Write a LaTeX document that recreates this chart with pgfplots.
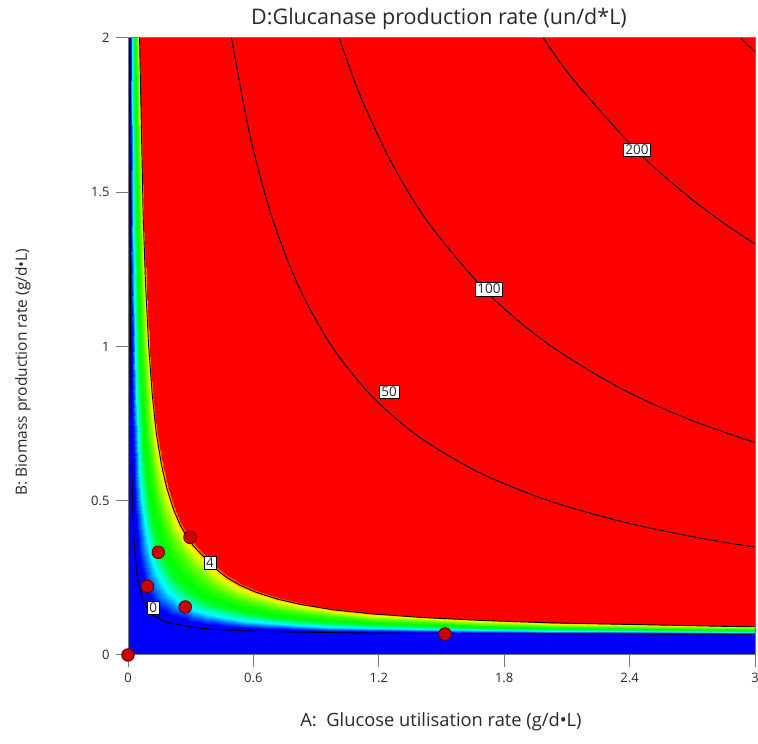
\documentclass[border=0pt]{standalone}
\usepackage{fontspec}
\setmainfont{Open Sans}
\usepackage{pgfplots}
\usepackage{pgfplotstable}
\pgfplotsset{compat=1.18}

\definecolor{ptfill}{RGB}{204,0,0}
\definecolor{ptedge}{RGB}{90,0,0}
\definecolor{framegray}{RGB}{120,120,120}
\definecolor{txt}{RGB}{40,40,40}

% response colour scale: f = 0 on the 0 contour, f = 1 on the 4 contour
\pgfplotsset{colormap={response}{
  rgb255(0pt)=(0,0,255); rgb255(8pt)=(0,0,255); rgb255(17pt)=(0,130,255);
  rgb255(25pt)=(0,255,255); rgb255(33pt)=(0,255,160); rgb255(42pt)=(0,255,40);
  rgb255(52pt)=(0,255,0); rgb255(66pt)=(50,255,0); rgb255(78pt)=(120,255,0);
  rgb255(88pt)=(200,255,0); rgb255(94pt)=(250,245,0); rgb255(100pt)=(255,170,0);
  rgb255(106pt)=(255,0,0); rgb255(110pt)=(255,0,0)}}

% level curves of the response (A, B) with their scale value f
\pgfplotstableread{
x y f
0.00766 2.6580 0
0.00861 2.0097 0
0.01025 1.4263 0
0.01134 1.1994 0
0.01270 1.0049 0
0.01435 0.8428 0
0.01627 0.7132 0
0.01870 0.5998 0
0.02119 0.5188 0
0.02474 0.4379 0
0.02893 0.3732 0
0.03530 0.3088 0
0.04273 0.2610 0
0.06636 0.1857 0
0.09813 0.1446 0
0.10961 0.1358 0
0.12254 0.1281 0
0.18321 0.1065 0
0.29435 0.0905 0
0.36493 0.0855 0
0.45995 0.0812 0
0.55541 0.0784 0
0.67483 0.0759 0
0.79440 0.0743 0
0.96177 0.0726 0
1.15311 0.0713 0
1.39234 0.0702 0
1.67943 0.0693 0
2.01435 0.0685 0
2.87560 0.0674 0
3.83254 0.0668 0
0.01696 2.6580 0.25
0.02022 2.0097 0.25
0.02580 1.4263 0.25
0.02952 1.1996 0.25
0.03415 1.0050 0.25
0.03976 0.8431 0.25
0.04626 0.7137 0.25
0.05459 0.6017 0.25
0.06311 0.5220 0.25
0.07507 0.4426 0.25
0.08885 0.3800 0.25
0.10856 0.3197 0.25
0.12876 0.2780 0.25
0.17053 0.2244 0.25
0.19694 0.2025 0.25
0.20359 0.1979 0.25
0.21043 0.1934 0.25
0.24278 0.1755 0.25
0.32187 0.1472 0.25
0.38335 0.1335 0.25
0.47234 0.1202 0.25
0.56474 0.1108 0.25
0.68201 0.1027 0.25
0.79967 0.0970 0.25
0.96493 0.0913 0.25
1.15598 0.0869 0.25
1.39498 0.0831 0.25
1.68215 0.0800 0.25
2.01675 0.0774 0.25
2.87799 0.0737 0.25
3.83493 0.0715 0.25
0.02626 2.6580 0.5
0.03182 2.0097 0.5
0.04135 1.4264 0.5
0.04770 1.1996 0.5
0.05557 1.0054 0.5
0.06512 0.8437 0.5
0.07617 0.7147 0.5
0.09038 0.6046 0.5
0.10469 0.5265 0.5
0.12455 0.4498 0.5
0.14632 0.3909 0.5
0.17483 0.3367 0.5
0.20033 0.3020 0.5
0.24244 0.2610 0.5
0.26464 0.2448 0.5
0.26986 0.2412 0.5
0.27522 0.2376 0.5
0.29914 0.2226 0.5
0.35967 0.1941 0.5
0.41081 0.1768 0.5
0.49081 0.1575 0.5
0.57789 0.1427 0.5
0.69110 0.1293 0.5
0.80632 0.1196 0.5
0.96880 0.1100 0.5
1.15923 0.1025 0.5
1.39789 0.0960 0.5
1.68464 0.0907 0.5
2.01938 0.0864 0.5
2.88038 0.0799 0.5
3.83732 0.0761 0.5
0.03556 2.6580 0.75
0.04342 2.0098 0.75
0.05690 1.4266 0.75
0.06589 1.1999 0.75
0.07699 1.0059 0.75
0.09043 0.8446 0.75
0.10589 0.7162 0.75
0.12589 0.6084 0.75
0.14569 0.5325 0.75
0.17249 0.4593 0.75
0.20029 0.4046 0.75
0.23378 0.3566 0.75
0.26110 0.3274 0.75
0.30148 0.2938 0.75
0.32158 0.2806 0.75
0.32603 0.2776 0.75
0.33053 0.2746 0.75
0.34995 0.2610 0.75
0.39947 0.2336 0.75
0.44258 0.2151 0.75
0.51344 0.1924 0.75
0.59421 0.1736 0.75
0.70225 0.1554 0.75
0.81431 0.1420 0.75
0.97349 0.1285 0.75
1.16297 0.1180 0.75
1.40105 0.1089 0.75
1.68746 0.1014 0.75
2.02201 0.0953 0.75
2.88297 0.0861 0.75
3.83971 0.0808 0.75
0.04486 2.6580 1
0.05502 2.0099 1
0.07244 1.4268 1
0.08402 1.2003 1
0.09833 1.0066 1
0.11565 0.8458 1
0.13541 0.7183 1
0.16096 0.6130 1
0.18589 0.5399 1
0.21842 0.4704 1
0.25057 0.4201 1
0.28694 0.3775 1
0.31469 0.3524 1
0.35388 0.3241 1
0.37258 0.3129 1
0.37651 0.3102 1
0.38057 0.3075 1
0.39708 0.2948 1
0.43885 0.2683 1
0.47589 0.2495 1
0.53876 0.2249 1
0.61306 0.2031 1
0.71560 0.1810 1
0.82354 0.1641 1
0.97890 0.1468 1
1.16713 0.1335 1
1.40445 0.1217 1
1.69043 0.1120 1
2.02478 0.1042 1
2.88545 0.0924 1
3.84211 0.0855 1
0.04858 2.6580 1.1
0.05966 2.0100 1.1
0.07866 1.4269 1.1
0.09129 1.2005 1.1
0.10689 1.0069 1.1
0.12569 0.8464 1.1
0.14713 0.7193 1.1
0.17469 0.6147 1.1
0.20139 0.5424 1.1
0.23579 0.4744 1.1
0.26900 0.4256 1.1
0.30574 0.3848 1.1
0.33335 0.3610 1.1
0.37163 0.3343 1.1
0.38976 0.3237 1.1
0.39354 0.3211 1.1
0.39742 0.3185 1.1
0.41301 0.3062 1.1
0.45249 0.2803 1.1
0.48766 0.2616 1.1
0.54780 0.2367 1.1
0.61981 0.2142 1.1
0.72024 0.1909 1.1
0.82694 0.1728 1.1
0.98129 0.1541 1.1
1.16895 0.1396 1.1
1.40589 0.1269 1.1
1.69167 0.1163 1.1
2.02589 0.1077 1.1
2.88646 0.0949 1.1
3.84306 0.0874 1.1
}\bandgrid

% low-response region enclosed by the 0 contour
\pgfplotstableread{
x y
-0.10 -0.10
-0.10 2.7000
0.00766 2.6580
0.00861 2.0097
0.01025 1.4263
0.01134 1.1994
0.01270 1.0049
0.01435 0.8428
0.01627 0.7132
0.01870 0.5998
0.02119 0.5188
0.02474 0.4379
0.02893 0.3732
0.03530 0.3088
0.04273 0.2610
0.06636 0.1857
0.09813 0.1446
0.10961 0.1358
0.12254 0.1281
0.18321 0.1065
0.29435 0.0905
0.36493 0.0855
0.45995 0.0812
0.55541 0.0784
0.67483 0.0759
0.79440 0.0743
0.96177 0.0726
1.15311 0.0713
1.39234 0.0702
1.67943 0.0693
2.01435 0.0685
2.87560 0.0674
3.83254 0.0668
3.90 -0.10
}\lowzone

\pgfplotstableread{
x y
0.4785 2.0746
0.4952 2.0000
0.5833 1.6856
0.6856 1.4263
0.8134 1.1994
0.9708 1.0049
1.1612 0.8428
1.3876 0.7096
1.6746 0.5935
2.0096 0.5011
2.3923 0.4276
2.7751 0.3744
3.0622 0.3436
}\cfifty

\pgfplotstableread{
x y
0.9722 2.0746
1.1096 1.8152
1.2670 1.5883
1.4450 1.3938
1.7273 1.1689
2.0096 1.0084
2.3445 0.8690
2.6794 0.7650
3.0622 0.6742
}\chundred

\pgfplotstableread{
x y
1.9139 2.0746
2.1129 1.8801
2.4306 1.6370
2.6794 1.4872
2.8708 1.3903
3.0622 1.3053
}\ctwohundred

\pgfplotstableread{
x y
2.8708 2.0418
2.9665 1.9767
3.0622 1.9154
}\cthreehundred

% design points
\pgfplotstableread{
x y
0.000 0.000
0.0925 0.2227
0.145 0.333
0.274 0.1556
0.2967 0.3815
1.517 0.068
}\design

\begin{document}
\begin{tikzpicture}
\path[use as bounding box] (0,0) rectangle (758pt,744pt);
\begin{axis}[
  at={(128pt,89pt)}, anchor=south west,
  scale only axis, width=627pt, height=617pt,
  xmin=0, xmax=3, ymin=0, ymax=2,
  axis background/.style={fill=red},
  axis on top,
  colormap name=response,
  point meta min=0, point meta max=1.1,
  xtick={0,0.6,1.2,1.8,2.4,3},
  xticklabels={0,0.6,1.2,1.8,2.4,3},
  ytick={0,0.5,1,1.5,2},
  yticklabels={0,0.5,1,1.5,2},
  xtick pos=bottom, ytick pos=left,
  tick align=outside,
  major tick length=12pt,
  axis line style={framegray, line width=1pt},
  every tick/.style={framegray, line width=1pt},
  ticklabel style={font=\fontsize{13}{15}\selectfont, text=txt},
  xticklabel style={yshift=-3pt},
  yticklabel style={xshift=-3pt},
]
\addplot[fill=blue, draw=none] table {\lowzone};
\addplot[surf, shader=interp, mesh/cols=31, point meta=explicit]
  table[x=x, y=y, meta=f] {\bandgrid};

% contour lines
\addplot[black, line width=0.9pt] table[x=x, y=y, restrict expr to domain={\thisrow{f}}{0:0}] {\bandgrid};
\addplot[black, line width=0.9pt] table[x=x, y=y, restrict expr to domain={\thisrow{f}}{1:1}] {\bandgrid};
\addplot[black, line width=0.9pt, smooth] table {\cfifty};
\addplot[black, line width=0.9pt, smooth] table {\chundred};
\addplot[black, line width=0.9pt, smooth] table {\ctwohundred};
\addplot[black, line width=0.9pt, smooth] table {\cthreehundred};

\begin{scope}[every node/.style={fill=white, draw=black, line width=0.6pt,
    inner xsep=2.2pt, inner ysep=1.8pt, font=\fontsize{13.5}{15}\selectfont, text=txt}]
\node at (axis cs:0.121,0.153) {0};
\node at (axis cs:0.392,0.300) {4};
\node at (axis cs:1.249,0.8525) {50};
\node at (axis cs:1.727,1.186) {100};
\node at (axis cs:2.435,1.637) {200};
\end{scope}

\addplot[only marks, mark=*, mark size=6.3pt,
  mark options={fill=ptfill, draw=ptedge, line width=0.8pt}] table {\design};
\end{axis}

\node[anchor=base, text=txt, font=\fontsize{21.5}{25}\selectfont] at (439pt,719pt)
  {D:Glucanase production rate (un/d*L)};
\node[anchor=base, text=txt, font=\fontsize{18.3}{21}\selectfont] at (441pt,17pt)
  {A:\ \ Glucose utilisation rate (g/d•L)};
\node[anchor=base, rotate=90, text=txt, font=\fontsize{15.5}{18}\selectfont] at (27pt,372pt)
  {B: Biomass production rate (g/d•L)};
\end{tikzpicture}
\end{document}
